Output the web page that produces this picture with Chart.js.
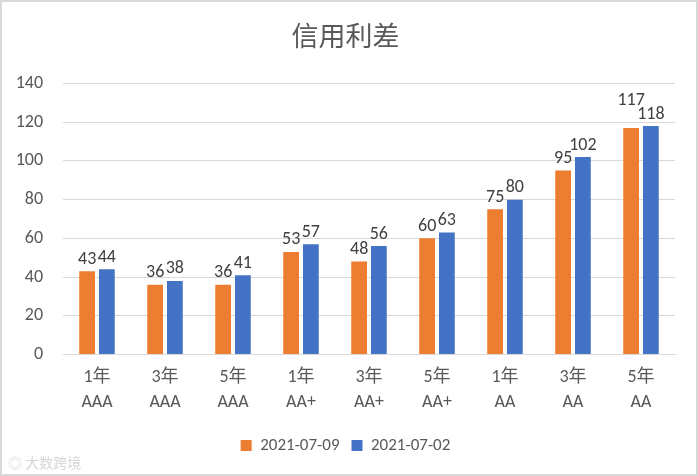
<!DOCTYPE html>
<html>
<head>
<meta charset="utf-8">
<script src="https://cdn.jsdelivr.net/npm/chart.js@4"></script>
<style>
    html, body { margin: 0; padding: 0; background: #fff; }
    .wrap {
        position: relative;
        width: 694px;
        height: 472px;
        border: 2px solid #d9d9d9;
    }
    .mark {
        position: absolute;
        left: 6px;
        bottom: 2px;
        font: 14px "Noto Sans CJK SC", sans-serif;
        color: #d6d6d6;
    }
</style>
</head>
<body>
<div class="wrap">
    <canvas id="chart" width="694" height="472"></canvas>
    <div class="mark">◎ 大数跨境</div>
</div>
<script>
const categories = [
    ['1年', 'AAA'], ['3年', 'AAA'], ['5年', 'AAA'],
    ['1年', 'AA+'], ['3年', 'AA+'], ['5年', 'AA+'],
    ['1年', 'AA'], ['3年', 'AA'], ['5年', 'AA']
];
const series0709 = [43, 36, 36, 53, 48, 60, 75, 95, 117];
const series0702 = [44, 38, 41, 57, 56, 63, 80, 102, 118];
const yTicks = [0, 20, 40, 60, 80, 100, 120, 140];

const fontFamily = 'Calibri, "Noto Sans CJK SC", sans-serif';

// Value labels above each bar, the left one is lifted when the pair collides
const valueLabels = {
    id: 'valueLabels',
    afterDatasetsDraw(chart) {
        const ctx = chart.ctx;
        ctx.save();
        ctx.font = '18px ' + fontFamily;
        ctx.fillStyle = '#404040';
        ctx.textAlign = 'center';
        ctx.textBaseline = 'bottom';
        const left = chart.getDatasetMeta(0).data;
        const right = chart.getDatasetMeta(1).data;
        const ds = chart.data.datasets;
        left.forEach((barA, j) => {
            const barB = right[j];
            const tA = String(ds[0].data[j]);
            const tB = String(ds[1].data[j]);
            const wA = ctx.measureText(tA).width;
            const wB = ctx.measureText(tB).width;
            let yA = barA.y - 3;
            const yB = barB.y - 3;
            const overlap = (barA.x + wA / 2) - (barB.x - wB / 2);
            if (overlap > 4 && Math.abs(yA - yB) < 16) {
                yA = yB - 14;
            }
            ctx.fillText(tA, barA.x, yA);
            ctx.fillText(tB, barB.x, yB);
        });
        ctx.restore();
    }
};

new Chart(document.getElementById('chart'), {
    type: 'bar',
    data: {
        labels: categories,
        datasets: [{
            label: '2021-07-09',
            data: series0709,
            backgroundColor: '#ed7d31',
            barPercentage: 0.8,
            categoryPercentage: 0.58
        }, {
            label: '2021-07-02',
            data: series0702,
            backgroundColor: '#4472c4',
            barPercentage: 0.8,
            categoryPercentage: 0.58
        }]
    },
    options: {
        responsive: false,
        animation: false,
        layout: {
            padding: { left: 14, right: 21, top: 6, bottom: 10 }
        },
        plugins: {
            title: {
                display: true,
                text: '信用利差',
                color: '#595959',
                font: { family: fontFamily, size: 27, weight: 'normal' },
                padding: { top: 15, bottom: 28 }
            },
            legend: {
                position: 'bottom',
                labels: {
                    color: '#595959',
                    font: { family: fontFamily, size: 17 },
                    boxWidth: 11,
                    boxHeight: 11,
                    padding: 12
                }
            },
            tooltip: { enabled: false }
        },
        scales: {
            x: {
                grid: { display: false, drawTicks: false },
                border: { color: '#d9d9d9' },
                ticks: {
                    color: '#595959',
                    font: { family: fontFamily, size: 18, lineHeight: 1.4 },
                    maxRotation: 0,
                    padding: 10
                }
            },
            y: {
                min: 0,
                max: 140,
                afterBuildTicks: axis => {
                    axis.ticks = yTicks.map(v => ({ value: v }));
                },
                afterFit: axis => {
                    axis.width = 47;
                },
                grid: { color: '#d9d9d9', drawTicks: false },
                border: { display: false },
                ticks: {
                    color: '#595959',
                    font: { family: fontFamily, size: 18 },
                    padding: 20
                }
            }
        }
    },
    plugins: [valueLabels]
});
</script>
</body>
</html>
